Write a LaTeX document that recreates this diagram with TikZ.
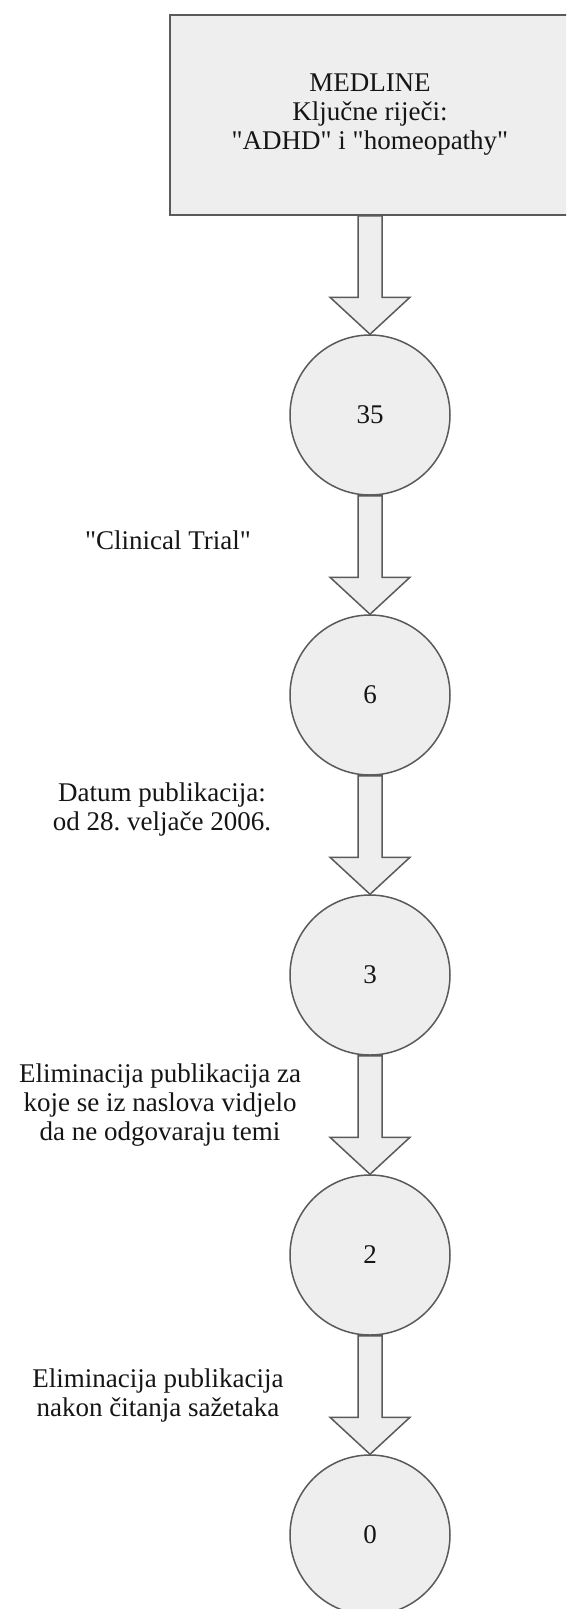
\documentclass[tikz,border=0pt]{standalone}
\usepackage{fontspec}
\newfontfamily\labelfont{Liberation Serif}
\usetikzlibrary{calc}
\definecolor{shapefill}{HTML}{EEEEEE}
\definecolor{shapeline}{HTML}{5A5A5A}
\definecolor{txt}{HTML}{151515}
\begin{document}
\frenchspacing
\begin{tikzpicture}[x=1pt,y=-1pt,
  every node/.style={text=txt,font=\labelfont\fontsize{27}{29}\selectfont},
  srcbox/.style={draw=shapeline,fill=shapefill,line width=1.5pt,rectangle,minimum width=400pt,minimum height=200pt,inner sep=0pt,align=center},
  countcirc/.style={draw=shapeline,fill=shapefill,line width=1.5pt,circle,minimum size=160pt,inner sep=0pt},
  blockarrow/.style={draw=shapeline,fill=shapefill,line width=1.5pt,line join=miter},
  lbl/.style={align=center,inner sep=0pt}]
\useasboundingbox (0,0) rectangle (566,1609);
\clip (0,0) rectangle (566,1609);
\fill[white] (0,0) rectangle (566,1609);

\node[srcbox] (src) at (370,115) {MEDLINE\\Ključne riječi:\\"ADHD" i "homeopathy"};
\node[countcirc] (n35) at (370,415) {35};
\node[countcirc] (n6) at (370,695) {6};
\node[countcirc] (n3) at (370,975) {3};
\node[countcirc] (n2) at (370,1255) {2};
\node[countcirc] (n0) at (370,1535) {0};

\foreach \a/\b in {src/n35,n35/n6,n6/n3,n3/n2,n2/n0}{
  \draw[blockarrow] ($(\a.south)+(-12,0)$) -- ($(\b.north)+(-12,-37)$) -- ($(\b.north)+(-40,-37)$)
     -- (\b.north) -- ($(\b.north)+(40,-37)$) -- ($(\b.north)+(12,-37)$) -- ($(\a.south)+(12,0)$) -- cycle;
}

\node[lbl] (l1) at (168,540) {"Clinical Trial"};
\node[lbl] (l2) at (162,809) {Datum publikacija:\\od 28. veljače 2006.};
\node[lbl] (l3) at (160,1105) {Eliminacija publikacija za\\koje se iz naslova vidjelo\\da ne odgovaraju temi};
\node[lbl] (l4) at (158,1395) {Eliminacija publikacija\\nakon čitanja sažetaka};
\end{tikzpicture}
\end{document}
